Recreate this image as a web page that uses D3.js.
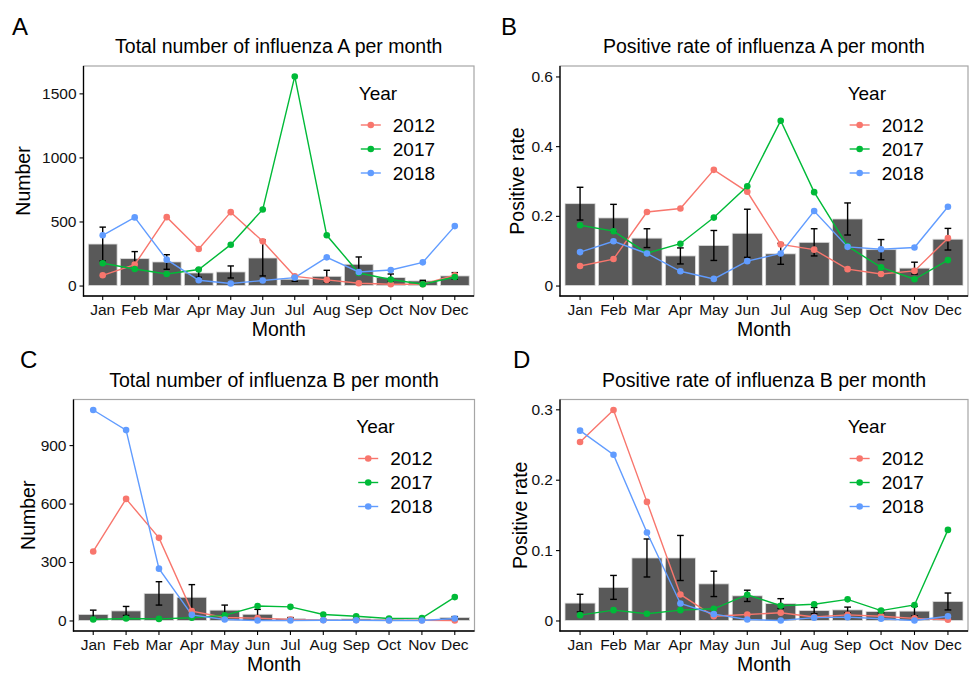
<!DOCTYPE html>
<html>
<head>
<meta charset="utf-8">
<script src="https://cdn.jsdelivr.net/npm/d3@7"></script>
<style>
  body { margin: 0; background: #fff; }
  svg { display: block; font-family: "Liberation Sans", Arial, sans-serif; }
</style>
</head>
<body>
<svg id="chart" width="971" height="674"></svg>
<script>
const months = ["Jan", "Feb", "Mar", "Apr", "May", "Jun", "Jul", "Aug", "Sep", "Oct", "Nov", "Dec"];
const years = ["2012", "2017", "2018"];
const yearColors = ["#F8766D", "#00BA38", "#619CFF"];

// A: total number of influenza A
const countA_mean = [324, 210, 184, 98, 106, 215, 49, 72, 166, 62, 36, 75];
const countA_se = [132, 55, 57, 33, 47, 140, 16, 47, 57, 28, 5, 26];
const countA_2012 = [80, 163, 534, 285, 573, 345, 72, 44, 18, 10, 10, 80];
const countA_2017 = [174, 129, 90, 125, 319, 594, 1632, 392, 98, 47, 10, 67];
const countA_2018 = [392, 532, 202, 41, 16, 39, 62, 220, 106, 121, 181, 464];
const ticksA = [0, 500, 1000, 1500];

// B: positive rate of influenza A
const rateA_mean = [0.235, 0.194, 0.136, 0.085, 0.115, 0.150, 0.091, 0.124, 0.191, 0.103, 0.050, 0.133];
const rateA_se = [0.047, 0.039, 0.027, 0.023, 0.043, 0.069, 0.030, 0.039, 0.046, 0.029, 0.017, 0.031];
const rateA_2012 = [0.056, 0.076, 0.211, 0.221, 0.332, 0.269, 0.118, 0.103, 0.047, 0.033, 0.042, 0.136];
const rateA_2017 = [0.173, 0.156, 0.093, 0.120, 0.195, 0.285, 0.473, 0.268, 0.113, 0.052, 0.018, 0.073];
const rateA_2018 = [0.096, 0.127, 0.092, 0.041, 0.019, 0.070, 0.092, 0.214, 0.111, 0.104, 0.109, 0.226];
const ticksB = [0, 0.2, 0.4, 0.6];

// C: total number of influenza B
const countB_mean = [31, 49, 139, 119, 53, 32, 10, 4, 8, 4, 3, 15];
const countB_se = [22, 23, 60, 65, 26, 25, 5, 2, 3, 2, 2, 5];
const countB_2012 = [354, 624, 424, 48, 15, 12, 5, 2, 2, 1, 1, 0];
const countB_2017 = [5, 10, 8, 14, 26, 74, 70, 31, 22, 10, 12, 120];
const countB_2018 = [1080, 977, 266, 29, 5, 0, 0, 1, 1, 0, 0, 10];
const ticksC = [0, 300, 600, 900];

// D: positive rate of influenza B
const rateB_mean = [0.0247, 0.047, 0.0888, 0.0888, 0.052, 0.035, 0.024, 0.014, 0.015, 0.0128, 0.0133, 0.027];
const rateB_se = [0.0125, 0.017, 0.027, 0.032, 0.018, 0.008, 0.007, 0.0045, 0.004, 0.002, 0.0067, 0.012];
const rateB_2012 = [0.2536, 0.299, 0.1685, 0.037, 0.006, 0.0085, 0.011, 0.005, 0.008, 0.006, 0.003, 0.001];
const rateB_2017 = [0.0076, 0.0147, 0.0095, 0.0147, 0.0166, 0.0366, 0.021, 0.023, 0.030, 0.014, 0.022, 0.1287];
const rateB_2018 = [0.2697, 0.2355, 0.125, 0.0242, 0.009, 0.0014, 0, 0.004, 0.0047, 0.0024, 0, 0.006];
const ticksD = [0, 0.1, 0.2, 0.3];

const svg = d3.select("#chart");

function drawPanel(p) {
    const g = svg.append("g");

    // ggplot style 5% expansion on the y range
    let lo = 0, hi;
    if (p.limits) { lo = p.limits[0]; hi = p.limits[1]; }
    else hi = d3.max([d3.max(p.mean.map((m, i) => m + p.se[i])), ...p.series.map(s => d3.max(s))]);
    const pad = (hi - lo) * 0.05;

    const x = d3.scaleBand().domain(months).range([p.left, p.right])
        .paddingInner(0.1).paddingOuter(0.15);
    const y = d3.scaleLinear().domain([lo - pad, hi + pad]).range([p.bottom, p.top]);
    const mid = d => x(d) + x.bandwidth() / 2;
    const cap = x.step() * 0.1;

    // panel border
    g.append("rect")
        .attr("x", p.left).attr("y", p.top)
        .attr("width", p.right - p.left).attr("height", p.bottom - p.top)
        .attr("fill", "none").attr("stroke", "#a6a6a6").attr("stroke-width", 1.2);

    // bars
    g.selectAll(".bar").data(months).enter().append("rect")
        .attr("x", d => x(d))
        .attr("y", (d, i) => y(p.mean[i]))
        .attr("width", x.bandwidth())
        .attr("height", (d, i) => y(0) - y(p.mean[i]))
        .attr("fill", "#595959")
        .attr("stroke", "#dcdcdc")
        .attr("stroke-width", 0.8);

    // error bars
    const eb = g.selectAll(".err").data(months).enter().append("g")
        .attr("stroke", "#000").attr("stroke-width", 1.4);
    eb.append("line")
        .attr("x1", d => mid(d)).attr("x2", d => mid(d))
        .attr("y1", (d, i) => y(p.mean[i] + p.se[i]))
        .attr("y2", (d, i) => y(p.mean[i] - p.se[i]));
    eb.append("line")
        .attr("x1", d => mid(d) - cap).attr("x2", d => mid(d) + cap)
        .attr("y1", (d, i) => y(p.mean[i] + p.se[i]))
        .attr("y2", (d, i) => y(p.mean[i] + p.se[i]));
    eb.append("line")
        .attr("x1", d => mid(d) - cap).attr("x2", d => mid(d) + cap)
        .attr("y1", (d, i) => y(p.mean[i] - p.se[i]))
        .attr("y2", (d, i) => y(p.mean[i] - p.se[i]));

    // year lines + points
    const line = d3.line().x((d, i) => mid(months[i])).y(d => y(d));
    p.series.forEach((s, k) => {
        g.append("path").datum(s)
            .attr("d", line)
            .attr("fill", "none")
            .attr("stroke", yearColors[k])
            .attr("stroke-width", 1.4);
    });
    p.series.forEach((s, k) => {
        g.selectAll(".pt" + k).data(s).enter().append("circle")
            .attr("cx", (d, i) => mid(months[i]))
            .attr("cy", d => y(d))
            .attr("r", 3.3)
            .attr("fill", yearColors[k]);
    });

    // axes
    const ax = g.append("g").attr("transform", `translate(${p.left},0)`)
        .call(d3.axisLeft(y).tickValues(p.ticks).tickSize(4).tickPadding(3).tickFormat(d3.format("~g")));
    const bx = g.append("g").attr("transform", `translate(0,${p.bottom})`)
        .call(d3.axisBottom(x).tickSize(4).tickPadding(4));
    [ax, bx].forEach(a => {
        a.select(".domain").remove();
        a.selectAll("line").attr("stroke", "#000").attr("stroke-width", 1.1);
        a.selectAll("text").attr("font-size", 15.5).attr("fill", "#111")
            .attr("font-family", "Liberation Sans, Arial, sans-serif");
    });
    g.append("line").attr("x1", p.left).attr("x2", p.left).attr("y1", p.top).attr("y2", p.bottom + 0.6)
        .attr("stroke", "#000").attr("stroke-width", 1.3);
    g.append("line").attr("x1", p.left - 0.6).attr("x2", p.right).attr("y1", p.bottom).attr("y2", p.bottom)
        .attr("stroke", "#000").attr("stroke-width", 1.3);

    // titles
    g.append("text").attr("x", (p.left + p.right) / 2).attr("y", p.top - 13)
        .attr("text-anchor", "middle").attr("font-size", 19.5).attr("fill", "#000")
        .text(p.title);
    g.append("text").attr("x", (p.left + p.right) / 2).attr("y", p.bottom + 39.5)
        .attr("text-anchor", "middle").attr("font-size", 19.5).attr("fill", "#000")
        .text("Month");
    g.append("text")
        .attr("transform", `translate(${p.ytitleX},${(p.top + p.bottom) / 2}) rotate(-90)`)
        .attr("text-anchor", "middle").attr("dominant-baseline", "central")
        .attr("font-size", 19.5).attr("fill", "#000")
        .text(p.ytitle);
    g.append("text").attr("x", p.tagX).attr("y", p.tagY)
        .attr("font-size", 24).attr("fill", "#000").text(p.tag);

    // legend
    const lx = p.left + (p.right - p.left) * 0.705;
    g.append("text").attr("x", lx).attr("y", p.top + 27).attr("dominant-baseline", "central")
        .attr("font-size", 19).attr("fill", "#000").text("Year");
    years.forEach((yr, k) => {
        const ly = p.top + 59 + k * 24;
        g.append("line").attr("x1", lx + 2).attr("x2", lx + 22).attr("y1", ly).attr("y2", ly)
            .attr("stroke", yearColors[k]).attr("stroke-width", 1.4);
        g.append("circle").attr("cx", lx + 12).attr("cy", ly).attr("r", 3.3).attr("fill", yearColors[k]);
        g.append("text").attr("x", lx + 34).attr("y", ly).attr("dominant-baseline", "central")
            .attr("font-size", 19).attr("fill", "#000").text(yr);
    });
}

drawPanel({
    tag: "A", tagX: 12, tagY: 35,
    title: "Total number of influenza A per month", ytitle: "Number", ytitleX: 23,
    left: 83.5, right: 474, top: 66, bottom: 296,
    mean: countA_mean, se: countA_se, series: [countA_2012, countA_2017, countA_2018], ticks: ticksA
});
drawPanel({
    tag: "B", tagX: 501, tagY: 35,
    title: "Positive rate of influenza A per month", ytitle: "Positive rate", ytitleX: 517,
    left: 560, right: 968, top: 66, bottom: 296, limits: [0, 0.6],
    mean: rateA_mean, se: rateA_se, series: [rateA_2012, rateA_2017, rateA_2018], ticks: ticksB
});
drawPanel({
    tag: "C", tagX: 20, tagY: 368,
    title: "Total number of influenza B per month", ytitle: "Number", ytitleX: 28,
    left: 73.5, right: 474.5, top: 399.5, bottom: 631,
    mean: countB_mean, se: countB_se, series: [countB_2012, countB_2017, countB_2018], ticks: ticksC
});
drawPanel({
    tag: "D", tagX: 513, tagY: 368,
    title: "Positive rate of influenza B per month", ytitle: "Positive rate", ytitleX: 520,
    left: 560, right: 968, top: 399.5, bottom: 631,
    mean: rateB_mean, se: rateB_se, series: [rateB_2012, rateB_2017, rateB_2018], ticks: ticksD
});
</script>
</body>
</html>
